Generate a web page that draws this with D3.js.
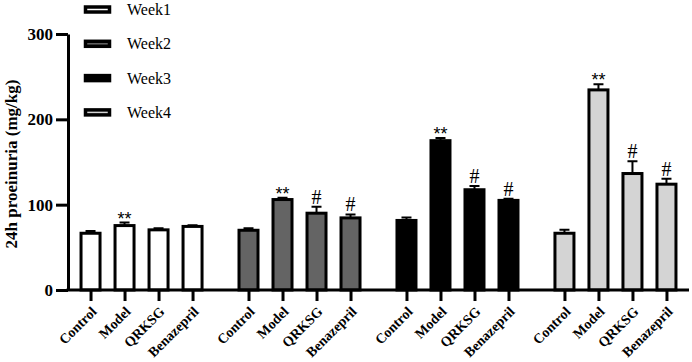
<!DOCTYPE html>
<html>
<head>
<meta charset="utf-8">
<script src="https://cdn.jsdelivr.net/npm/d3@7"></script>
<style>
  body { margin: 0; background: #fff; }
  svg { display: block; }
</style>
</head>
<body>
<div id="chart"></div>
<script>
const weeks = ["Week1", "Week2", "Week3", "Week4"];
const groups = ["Control", "Model", "QRKSG", "Benazepril"];
const fills = ["#ffffff", "#646464", "#000000", "#d4d4d4"];

const week1Mean = [66.5, 75.5, 70.5, 74.5];
const week2Mean = [70, 106, 90, 84.5];
const week3Mean = [81.5, 175, 117.5, 105];
const week4Mean = [66.5, 234.5, 136.5, 124];

const week1Sem = [2.5, 3.5, 2, 1.5];
const week2Sem = [2.5, 2, 7.5, 4];
const week3Sem = [3.5, 3, 4.5, 2];
const week4Sem = [4, 6.5, 14.5, 6.5];

const week1Marks = ["", "**", "", ""];
const week2Marks = ["", "**", "#", "#"];
const week3Marks = ["", "**", "#", "#"];
const week4Marks = ["", "**", "#", "#"];

const yTicks = [0, 100, 200, 300];

const means = [week1Mean, week2Mean, week3Mean, week4Mean];
const sems = [week1Sem, week2Sem, week3Sem, week4Sem];
const marks = [week1Marks, week2Marks, week3Marks, week4Marks];

const data = [];
weeks.forEach((w, wi) => {
  groups.forEach((g, gi) => {
    data.push({ week: w, group: g, key: w + "|" + g, mean: means[wi][gi], sem: sems[wi][gi], mark: marks[wi][gi], fill: fills[wi] });
  });
});

const width = 692, height = 362;
const x0 = 68, x1 = 689, yBottom = 290, yTop = 34;
const serif = "'Liberation Serif', 'Times New Roman', serif";

const svg = d3.select("#chart")
  .append("svg")
  .attr("width", width)
  .attr("height", height);

const y = d3.scaleLinear().domain([0, 300]).range([yBottom, yTop]);

const xWeek = d3.scaleBand()
  .domain(weeks)
  .range([x0, x1])
  .paddingInner(0.139)
  .paddingOuter(0.035);

const xGroup = d3.scaleBand()
  .domain(groups)
  .range([0, xWeek.bandwidth()])
  .paddingInner(0.35)
  .paddingOuter(0.175);

const cx = d => xWeek(d.week) + xGroup(d.group) + xGroup.bandwidth() / 2;
const barW = 19;

// bars
svg.selectAll(".bar")
  .data(data)
  .enter()
  .append("rect")
  .attr("class", "bar")
  .attr("x", d => cx(d) - barW / 2)
  .attr("y", d => y(d.mean))
  .attr("width", barW)
  .attr("height", d => y(0) - y(d.mean))
  .attr("fill", d => d.fill)
  .attr("stroke", "#000")
  .attr("stroke-width", 3);

// error bars (upper only)
svg.selectAll(".err")
  .data(data)
  .enter()
  .append("path")
  .attr("class", "err")
  .attr("fill", "none")
  .attr("stroke", "#000")
  .attr("stroke-width", 2)
  .attr("d", d => {
    const c = cx(d), t = y(d.mean + d.sem);
    return `M${c},${y(d.mean)}V${t}M${c - 5},${t}H${c + 5}`;
  });

// significance marks
svg.selectAll(".mark")
  .data(data.filter(d => d.mark))
  .enter()
  .append("text")
  .attr("class", "mark")
  .attr("x", d => cx(d))
  .attr("y", d => d.mark === "**" ? y(d.mean + d.sem) + 2 : y(d.mean + d.sem) - 3)
  .attr("text-anchor", "middle")
  .style("font-family", d => d.mark === "**" ? "'Liberation Sans', Arial, sans-serif" : serif)
  .style("font-size", d => d.mark === "**" ? "18px" : "20px")
  .text(d => d.mark);

// y axis
const yAxis = svg.append("g")
  .attr("transform", `translate(${x0},0)`)
  .call(d3.axisLeft(y).tickValues(yTicks).tickSize(12).tickSizeOuter(0).tickPadding(3));
yAxis.select(".domain").attr("stroke-width", 3);
yAxis.selectAll(".tick line").attr("stroke-width", 3);
yAxis.selectAll(".tick text")
  .style("font-family", serif)
  .style("font-weight", "bold")
  .style("font-size", "17px")
  .attr("fill", "#000");

// x axis baseline
svg.append("line")
  .attr("x1", x0 - 1.5)
  .attr("x2", x1)
  .attr("y1", yBottom)
  .attr("y2", yBottom)
  .attr("stroke", "#000")
  .attr("stroke-width", 3);

const xKey = d3.scaleOrdinal()
  .domain(data.map(d => d.key))
  .range(data.map(d => cx(d)));

const xAxis = svg.append("g")
  .attr("transform", `translate(0,${yBottom})`)
  .call(d3.axisBottom(xKey).tickSize(11).tickSizeOuter(0).tickFormat(k => k.split("|")[1]));
xAxis.select(".domain").remove();
xAxis.selectAll(".tick line").attr("stroke-width", 3);
xAxis.selectAll(".tick text")
  .attr("text-anchor", "end")
  .attr("transform", "translate(3,19) rotate(-45)")
  .attr("dy", "0.35em")
  .attr("y", 0)
  .attr("x", 0)
  .style("font-family", serif)
  .style("font-weight", "bold")
  .style("font-size", "14px")
  .attr("fill", "#000");

// y title
svg.append("text")
  .attr("transform", "translate(17,164) rotate(-90)")
  .attr("text-anchor", "middle")
  .style("font-family", serif)
  .style("font-weight", "bold")
  .style("font-size", "17px")
  .text("24h proeinuria (mg/kg)");

// legend
const legend = svg.selectAll(".legend")
  .data(weeks)
  .enter()
  .append("g")
  .attr("class", "legend")
  .attr("transform", (d, i) => `translate(84,${9.5 + i * 34.3})`);

legend.append("rect")
  .attr("x", 1.5)
  .attr("y", -2.5)
  .attr("width", 24)
  .attr("height", 5)
  .attr("fill", (d, i) => fills[i])
  .attr("stroke", "#000")
  .attr("stroke-width", 3.5);

legend.append("text")
  .attr("x", 43)
  .attr("y", 5.5)
  .style("font-family", serif)
  .style("font-size", "16px")
  .text(d => d);
</script>
</body>
</html>
